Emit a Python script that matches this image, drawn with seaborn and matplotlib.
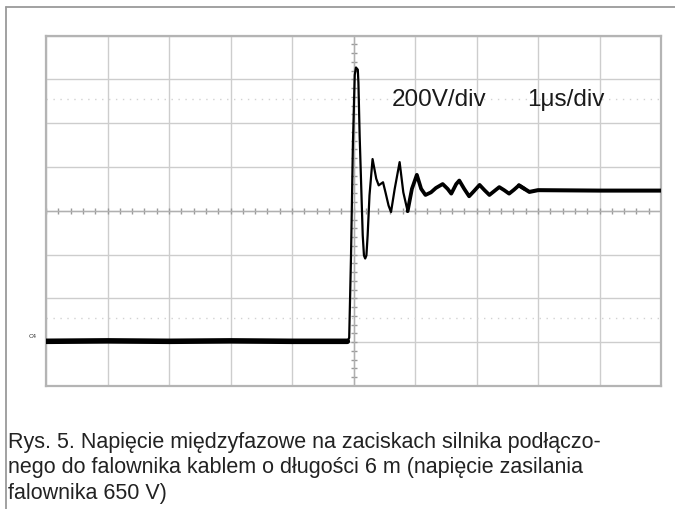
import matplotlib
matplotlib.use('Agg')
import matplotlib.pyplot as plt
import numpy as np
import pandas as pd
import seaborn as sns
from matplotlib.lines import Line2D

# scope trace, in divisions (1 div = 1 us, 200 V)
t_div = [0.0, 1.0, 2.0, 3.0, 4.0, 4.90, 4.93, 4.96, 4.99, 5.02, 5.04, 5.07,
         5.08, 5.10, 5.13, 5.15, 5.17, 5.19, 5.21, 5.23, 5.26, 5.31, 5.37,
         5.41, 5.48, 5.52, 5.57, 5.61, 5.67, 5.75, 5.81, 5.88, 5.95, 6.03,
         6.10, 6.17, 6.26, 6.34, 6.45, 6.53, 6.59, 6.67, 6.72, 6.80, 6.88,
         6.96, 7.05, 7.13, 7.21, 7.29, 7.37, 7.45, 7.53, 7.61, 7.69, 7.78,
         7.86, 8.0, 9.0, 10.0]
v_div = [-2.98, -2.97, -2.98, -2.97, -2.98, -2.98, -2.90, -1.00, 1.50, 3.10,
         3.27, 3.22, 2.92, 1.71, 0.35, -0.56, -1.02, -1.09, -1.02, -0.56,
         0.35, 1.18, 0.73, 0.58, 0.65, 0.42, 0.12, -0.03, 0.50, 1.11, 0.42,
         -0.01, 0.50, 0.82, 0.50, 0.36, 0.42, 0.52, 0.61, 0.50, 0.39, 0.61,
         0.69, 0.50, 0.33, 0.45, 0.59, 0.47, 0.36, 0.45, 0.54, 0.47, 0.39,
         0.48, 0.58, 0.50, 0.43, 0.47, 0.46, 0.46]

cursor_levels = [2.55, -2.45]
label_v = '200V/div'
label_t = '1\u03bcs/div'
caption_lines = ['Rys. 5. Napięcie międzyfazowe na zaciskach silnika podłączo-',
                 'nego do falownika kablem o długości 6 m (napięcie zasilania',
                 'falownika 650 V)']

sns.set_style('white')
plt.rcParams['font.family'] = ['Liberation Sans', 'DejaVu Sans']

fig = plt.figure(figsize=(6.75, 5.1), dpi=100)
ax = fig.add_axes([46 / 675, 1 - 387 / 510, 615 / 675, 350.5 / 510])

df = pd.DataFrame({'t': t_div, 'v': v_div})
base = df[df.t <= 4.90]
ring = df[(df.t >= 4.90) & (df.t <= 5.95)]
damp = df[(df.t >= 5.88) & (df.t <= 7.78)]
tail = df[df.t >= 7.69]

# noisy parts drawn thicker than the clean first swings
kw = dict(color='black', ax=ax, zorder=5, solid_joinstyle='round',
          solid_capstyle='round')
sns.lineplot(data=base, x='t', y='v', lw=4.0, **kw)
sns.lineplot(data=ring, x='t', y='v', lw=1.6, **kw)
sns.lineplot(data=damp, x='t', y='v', lw=2.7, **kw)
sns.lineplot(data=tail, x='t', y='v', lw=2.9, **kw)

# graticule
ax.set_xlim(0, 10)
ax.set_ylim(-4, 4)
ax.set_xticks(range(11))
ax.set_yticks(range(-4, 5))
ax.grid(True, color='#cdcdcd', lw=1.0)
ax.tick_params(length=0, labelbottom=False, labelleft=False)
ax.set_xlabel('')
ax.set_ylabel('')
for s in ax.spines.values():
    s.set_color('#b4b4b4')
    s.set_linewidth(1.6)

minor = np.arange(0, 10.01, 0.2)
ax.plot(minor, np.zeros_like(minor), ls='none', marker='|', ms=5,
        color='#9a9a9a', mew=1)
minor_y = np.arange(-4, 4.01, 0.2)
ax.plot(np.full_like(minor_y, 5), minor_y, ls='none', marker='_', ms=5,
        color='#9a9a9a', mew=1)
ax.axhline(0, color='#b0b0b0', lw=1.0)
ax.axvline(5, color='#b0b0b0', lw=1.0)
for lvl in cursor_levels:
    ax.axhline(lvl, color='#d2d2d2', lw=1.0, ls=(0, (1, 4)))

ax.text(5.63, 2.55, label_v, fontsize=17.5, va='center', ha='left',
        color='#1a1a1a', zorder=6)
ax.text(7.83, 2.55, label_t, fontsize=17.5, va='center', ha='left',
        color='#1a1a1a', zorder=6)
ax.text(-0.28, -2.9, 'C4', fontsize=4.5, va='bottom', ha='left',
        color='#333333', clip_on=False)

# outer frame (left and top edges)
fig.add_artist(Line2D([6 / 675, 6 / 675], [0, 1 - 8 / 510],
                      transform=fig.transFigure, color='#9a9a9a', lw=1.3))
fig.add_artist(Line2D([6 / 675, 1], [1 - 8 / 510, 1 - 8 / 510],
                      transform=fig.transFigure, color='#9a9a9a', lw=1.3))

for i, line in enumerate(caption_lines):
    fig.text(8 / 675, 1 - (448 + 25.5 * i) / 510, line, fontsize=15.5,
             va='baseline', ha='left', color='#222222')

plt.savefig('out.png', dpi=100)
